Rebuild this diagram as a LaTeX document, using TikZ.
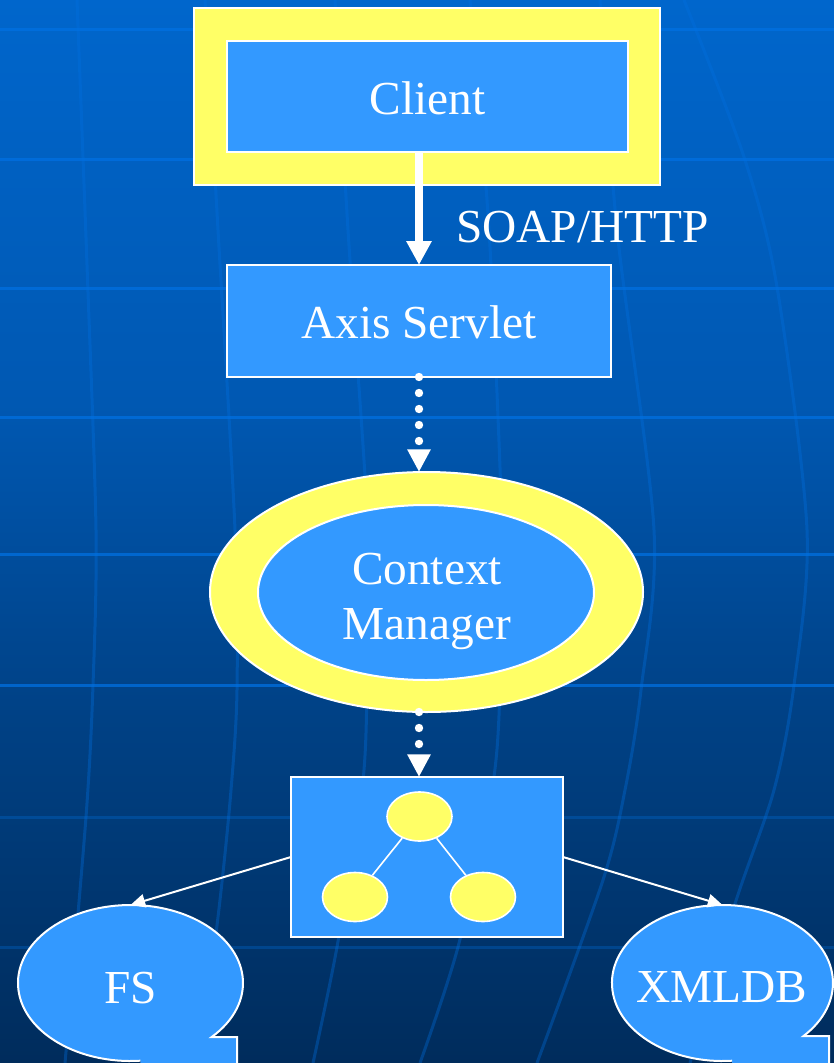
\documentclass[tikz,border=0pt]{standalone}
\usepackage{fontspec}
\setmainfont{Liberation Serif}
\usetikzlibrary{shapes.geometric,arrows.meta}
\definecolor{boxblue}{RGB}{51,153,255}
\definecolor{hiyellow}{RGB}{255,255,102}
\definecolor{bgtop}{RGB}{0,102,204}
\definecolor{bgmidA}{RGB}{0,88,178}
\definecolor{bgmidB}{RGB}{0,66,135}
\definecolor{bgbot}{RGB}{0,44,92}
\definecolor{gridc}{RGB}{0,112,225}
\pgfdeclareverticalshading{slidebg}{100bp}{color(0bp)=(bgbot); color(25bp)=(bgbot); color(42bp)=(bgmidB); color(56bp)=(bgmidA); color(75bp)=(bgtop); color(100bp)=(bgtop)}
\begin{document}
\begin{tikzpicture}[x=0.75pt,y=-0.75pt,
  gridline/.style={gridc, line width=2.25pt},
  gridcurve/.style={gridc, line width=2.25pt, opacity=0.35},
  bluebox/.style={draw=white, line width=1.5pt, fill=boxblue, inner sep=0pt, outer sep=0pt},
  yellowframe/.style={draw=white, line width=1.5pt, fill=hiyellow, inner sep=0pt, outer sep=0pt},
  anchorshape/.style={ellipse, inner sep=0pt, outer sep=0pt},
  txt/.style={text=white, font=\fontsize{35.5}{42}\selectfont, inner sep=0pt, anchor=base},
  bigarrow/.style={white, line width=6pt, -{Triangle[width=18pt,length=18pt]}},
  dotarrow/.style={white, line width=6.3pt, line cap=round, dash pattern=on 0pt off 12pt, -{Triangle[width=16.5pt,length=17pt]}},
  thinarrow/.style={white, line width=1.5pt, -{Triangle[width=10pt,length=11pt]}},
  treeline/.style={white, line width=1.2pt}]
\useasboundingbox (0,0) rectangle (834,1063);
% background
\fill[shading=slidebg] (0,0) rectangle (834,1063);
\foreach \yy/\op in {30/0.75,159/0.75,288/0.75,417/0.75,554/0.75,685/0.75,817/0.3,947/0.3}
  \draw[gridline, opacity=\op] (0,\yy) -- (834,\yy);
\draw[gridcurve] plot[smooth] coordinates {(77,0) (87,265) (96,530) (93,685) (86,817) (65,1063)};
\draw[gridcurve] plot[smooth] coordinates {(205,0) (218,230) (235,530) (237,690) (231,790) (220,900) (200,1063)};
\draw[gridcurve] plot[smooth] coordinates {(335,0) (348,230) (368,530) (367,690) (362,790) (337,947) (313,1063)};
\draw[gridcurve] plot[smooth] coordinates {(470,0) (489,230) (502,530) (500,690) (492,790) (458,947) (420,1063)};
\draw[gridcurve] plot[smooth] coordinates {(600,0) (617,230) (654,530) (641,690) (625,790) (603,880) (537,1063)};
\draw[gridcurve] plot[smooth] coordinates {(684,0) (744,157) (777,287) (807,530) (794,685) (774,790) (734,907) (690,1063)};

% Client
\node[yellowframe, rectangle, minimum width=349.5pt, minimum height=132.75pt] (clientframe) at (427,96.5) {};
\node[bluebox, rectangle, minimum width=300.75pt, minimum height=83.25pt] (client) at (427.5,96.5) {};
\node[txt] (clienttxt) at (427.5,114) {Client};

% Axis Servlet
\node[bluebox, rectangle, minimum width=288pt, minimum height=84pt] (axis) at (419,321) {};
\node[txt] (axistxt) at (419,338.5) {Axis Servlet};

% SOAP/HTTP label
\node[txt, anchor=base west] (soap) at (456,242) {SOAP/HTTP};

% Context Manager
\node[yellowframe, ellipse, minimum width=324.75pt, minimum height=180pt] (cmouter) at (426.5,592) {};
\node[bluebox, ellipse, minimum width=252pt, minimum height=131.25pt] (cminner) at (426,592.5) {};
\node[txt] (cmtop) at (427,584) {Context};
\node[txt] (cmbot) at (427,639) {Manager};

% tree box
\node[bluebox, rectangle, minimum width=204pt, minimum height=120pt] (tree) at (427,857) {};
\node[ellipse, fill=hiyellow, draw=white, line width=1.2pt, inner sep=0pt, minimum width=48.75pt, minimum height=36.75pt] (troot) at (419.5,816.5) {};
\node[ellipse, fill=hiyellow, draw=white, line width=1.2pt, inner sep=0pt, minimum width=48.75pt, minimum height=36.75pt] (tleft) at (355,897) {};
\node[ellipse, fill=hiyellow, draw=white, line width=1.2pt, inner sep=0pt, minimum width=48.75pt, minimum height=36.75pt] (tright) at (483,897) {};
\draw[treeline] (troot) -- (tleft);
\draw[treeline] (troot) -- (tright);

% FS callout
\fill[boxblue] (140.3,1060.7) arc[start angle=85, end angle=404, x radius=112.5, y radius=78] -- (237,1037.2) -- (237,1100) -- (140.3,1100) -- cycle;
\draw[white, line width=1.5pt] (140.3,1060.7) arc[start angle=85, end angle=404, x radius=112.5, y radius=78] -- (237,1037.2) -- (237,1100);
\node[anchorshape, minimum width=168.75pt, minimum height=117pt] (fs) at (130.5,983) {};
\node[txt] (fstxt) at (130.5,1003) {FS};

% XMLDB callout
\fill[boxblue] (732.1,1060.7) arc[start angle=85, end angle=403, x radius=110.5, y radius=78] -- (829,1036) -- (829,1100) -- (732.1,1100) -- cycle;
\draw[white, line width=1.5pt] (732.1,1060.7) arc[start angle=85, end angle=403, x radius=110.5, y radius=78] -- (829,1036) -- (829,1100);
\node[anchorshape, minimum width=165.75pt, minimum height=117pt] (xmldb) at (722.5,983) {};
\node[txt] (xmldbtxt) at (722,1002) {XMLDB};

% connectors
\draw[bigarrow] (client.south -| axis.north) -- (axis.north);
\draw[dotarrow] (axis.south) -- (axis.south |- cmouter.north);
\draw[dotarrow] (cmouter.south -| axis.south) -- (tree.north -| axis.south);
\draw[thinarrow] (tree.west) -- (fs.north);
\draw[thinarrow] (tree.east) -- (xmldb.north);
\end{tikzpicture}
\end{document}
